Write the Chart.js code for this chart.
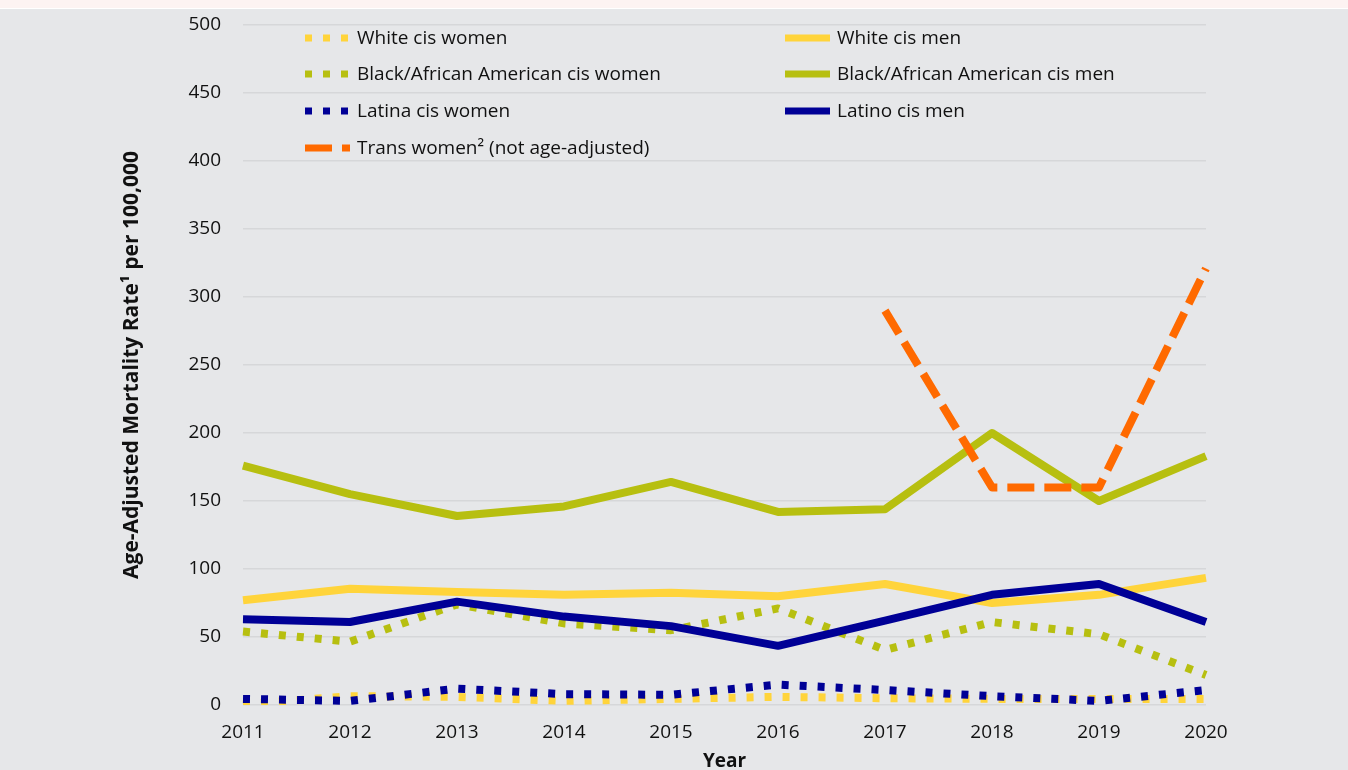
<!DOCTYPE html>
<html>
<head>
<meta charset="utf-8">
<script src="https://cdn.jsdelivr.net/npm/chart.js@4.4.1/dist/chart.umd.min.js"></script>
<style>
  body { margin: 0; background: #e6e7e9; }
  #strip { position: absolute; left: 0; top: 0; width: 1348px; height: 8px; background: #fdf3f2; border-bottom: 1px solid #ffffff; }
  #wrap { position: absolute; left: 0; top: 0; width: 1348px; height: 770px; }
</style>
</head>
<body>
<div id="wrap"><canvas id="chart"></canvas></div>
<div id="strip"></div>
<script>
const years = ['2011', '2012', '2013', '2014', '2015', '2016', '2017', '2018', '2019', '2020'];
const yTicks = [0, 50, 100, 150, 200, 250, 300, 350, 400, 450, 500];

const whiteWomen  = [0.5, 6.5, 6, 3, 4.5, 6, 5, 4.5, 4.5, 4.5];
const whiteMen    = [77, 85.5, 83, 81, 82.5, 80, 89, 75, 81, 93.5];
const blackWomen  = [54, 46.5, 74, 60, 55, 71, 40.5, 61, 52, 22];
const blackMen    = [176, 155, 139, 146, 164, 142, 144, 200, 150, 183];
const latinaWomen = [4.5, 3, 12, 8, 7.5, 15, 11, 6.5, 3, 11];
const latinoMen   = [63, 61, 76, 65, 58, 43.5, 62, 81, 89, 61];
const transWomen  = [null, null, null, null, null, null, 290, 160, 160, 321];

const YELLOW = '#ffd43b';
const OLIVE = '#b7bf10';
const NAVY = '#000096';
const ORANGE = '#ff6a00';
const FONT = '"Open Sans", sans-serif';

function line(label, data, color, dash, order) {
    return {
        label: label,
        data: data,
        borderColor: color,
        backgroundColor: color,
        borderWidth: 8,
        borderDash: dash || [],
        borderCapStyle: 'butt',
        borderJoinStyle: 'round',
        pointRadius: 0,
        tension: 0,
        spanGaps: false,
        order: order
    };
}

// legend drawn by hand: two columns like the original
const legendRows = [[0, 1], [2, 3], [4, 5], [6]];
const legendPlugin = {
    id: 'colLegend',
    afterDraw(chart) {
        const ctx = chart.ctx;
        const colX = [305, 785];
        const rowY = [38, 74, 111, 148];
        ctx.save();
        ctx.font = '19px ' + FONT;
        ctx.textBaseline = 'middle';
        ctx.fillStyle = '#111111';
        legendRows.forEach((row, r) => {
            row.forEach((idx, c) => {
                const ds = chart.data.datasets[idx];
                const x = colX[c], y = rowY[r];
                ctx.save();
                ctx.beginPath();
                ctx.rect(x, y - 6, 45, 12);
                ctx.clip();
                ctx.strokeStyle = ds.borderColor;
                ctx.lineWidth = 7;
                ctx.lineCap = 'butt';
                ctx.setLineDash(ds.borderDash);
                ctx.beginPath();
                ctx.moveTo(x, y);
                ctx.lineTo(x + 46, y);
                ctx.stroke();
                ctx.restore();
                ctx.fillText(ds.label, x + 52, y + 1);
            });
        });
        ctx.restore();
    }
};

new Chart(document.getElementById('chart'), {
    type: 'line',
    data: {
        labels: years,
        datasets: [
            line('White cis women', whiteWomen, YELLOW, [7, 11], 6),
            line('White cis men', whiteMen, YELLOW, null, 4),
            line('Black/African American cis women', blackWomen, OLIVE, [7, 11], 5),
            line('Black/African American cis men', blackMen, OLIVE, null, 3),
            line('Latina cis women', latinaWomen, NAVY, [7, 11], 2),
            line('Latino cis men', latinoMen, NAVY, null, 1),
            line('Trans women\u00b2 (not age-adjusted)', transWomen, ORANGE, [27, 10], 0)
        ]
    },
    options: {
        responsive: true,
        maintainAspectRatio: false,
        animation: false,
        layout: { padding: { top: 25, left: 119, right: 142, bottom: 0 } },
        plugins: {
            legend: { display: false },
            tooltip: { enabled: false }
        },
        scales: {
            x: {
                offset: false,
                grid: { display: false, drawTicks: false, tickLength: 0 },
                border: { display: false },
                ticks: { color: '#111111', font: { family: FONT, size: 19 }, padding: 16, maxRotation: 0 },
                title: { display: true, text: 'Year', color: '#111111', font: { family: FONT, size: 19, weight: 'bold' }, padding: { top: 0, bottom: -3 } },
                afterFit(scale) { scale.height = 65; }
            },
            y: {
                min: 0,
                max: 500,
                afterBuildTicks(scale) { scale.ticks = yTicks.map(v => ({ value: v })); },
                grid: { color: '#d6d7d9', lineWidth: 1.5, drawTicks: false, tickLength: 0 },
                border: { display: false },
                ticks: { color: '#111111', font: { family: FONT, size: 19 }, padding: 22 },
                title: { display: true, text: 'Age-Adjusted Mortality Rate\u00b9 per 100,000', color: '#111111', font: { family: FONT, size: 21, weight: 'bold' }, padding: { top: 0, bottom: 0 } },
                afterFit(scale) {
                    scale.width = 124;
                    scale.paddingTop = 0;
                    scale.paddingBottom = 0;
                }
            }
        }
    },
    plugins: [legendPlugin]
});
</script>
</body>
</html>
